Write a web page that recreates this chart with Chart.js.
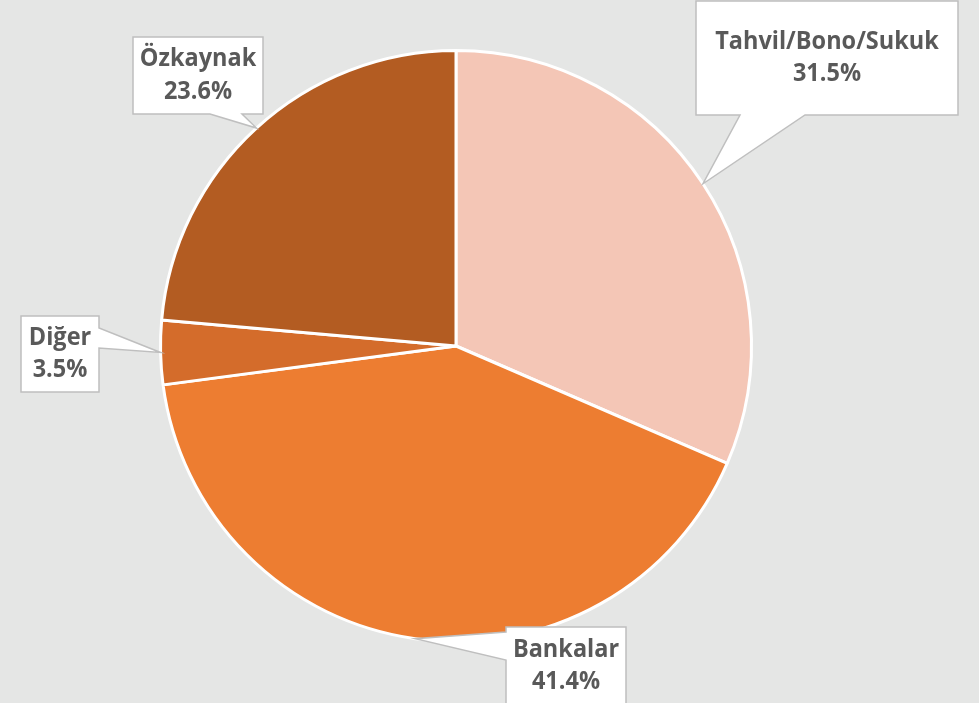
<!DOCTYPE html>
<html>
<head>
<meta charset="utf-8">
<script src="https://cdn.jsdelivr.net/npm/chart.js@4.4.1/dist/chart.umd.min.js"></script>
<style>
  html, body { margin: 0; padding: 0; background: #E5E6E5; }
  #wrap { width: 979px; height: 703px; }
</style>
</head>
<body>
<div id="wrap"><canvas id="pie"></canvas></div>
<script>
// Data
const labels = ['Tahvil/Bono/Sukuk', 'Bankalar', 'Diğer', 'Özkaynak'];
const shares = [31.5, 41.4, 3.5, 23.6];
const colors = ['#F4C6B6', '#ED7D31', '#D46C2B', '#B35C22'];

// Callout boxes: rect + where the pointer leaves the box
const callouts = [
    { x: 696, y: 1, w: 262, h: 114, base: ['bottom', 740, 805] },
    { x: 506, y: 627, w: 120, h: 78, base: ['left', 632, 660] },
    { x: 21, y: 316, w: 78, h: 76, base: ['right', 328, 348] },
    { x: 133, y: 37, w: 130, h: 77, base: ['bottom', 210, 242] }
];

const labelFont = 'bold 23.5px "Open Sans"';

const calloutPlugin = {
    id: 'callouts',
    afterDraw(chart) {
        const ctx = chart.ctx;
        const arcs = chart.getDatasetMeta(0).data;
        ctx.save();
        arcs.forEach((arc, i) => {
            const c = callouts[i];
            const p = arc.getProps(['x', 'y', 'startAngle', 'endAngle', 'outerRadius'], true);
            const mid = (p.startAngle + p.endAngle) / 2;
            const tx = p.x + Math.cos(mid) * p.outerRadius;
            const ty = p.y + Math.sin(mid) * p.outerRadius;
            const [side, a, b] = c.base;

            // box with pointer
            ctx.beginPath();
            ctx.moveTo(c.x, c.y);
            ctx.lineTo(c.x + c.w, c.y);
            if (side === 'right') {
                ctx.lineTo(c.x + c.w, a);
                ctx.lineTo(tx, ty);
                ctx.lineTo(c.x + c.w, b);
            }
            ctx.lineTo(c.x + c.w, c.y + c.h);
            if (side === 'bottom') {
                ctx.lineTo(b, c.y + c.h);
                ctx.lineTo(tx, ty);
                ctx.lineTo(a, c.y + c.h);
            }
            ctx.lineTo(c.x, c.y + c.h);
            if (side === 'left') {
                ctx.lineTo(c.x, b);
                ctx.lineTo(tx, ty);
                ctx.lineTo(c.x, a);
            }
            ctx.closePath();
            ctx.fillStyle = '#FFFFFF';
            ctx.fill();
            ctx.strokeStyle = '#BFBFBF';
            ctx.lineWidth = 1.5;
            ctx.stroke();

            // text, stretched a little vertically to look like Calibri
            const cx = c.x + c.w / 2;
            const cy = c.y + c.h / 2;
            ctx.save();
            ctx.translate(cx, cy);
            ctx.scale(1, 1.1);
            ctx.fillStyle = '#595959';
            ctx.font = labelFont;
            ctx.textAlign = 'center';
            ctx.textBaseline = 'middle';
            ctx.fillText(labels[i], 0, -15);
            ctx.fillText(shares[i].toFixed(1) + '%', 0, 14.5);
            ctx.restore();
        });
        ctx.restore();
    }
};

function createPie() {
    const ctx = document.getElementById('pie').getContext('2d');
    new Chart(ctx, {
        type: 'pie',
        data: {
            labels: labels,
            datasets: [{
                data: shares,
                backgroundColor: colors,
                borderColor: '#FFFFFF',
                borderWidth: 3
            }]
        },
        options: {
            responsive: true,
            maintainAspectRatio: false,
            animation: false,
            layout: {
                padding: { top: 49, bottom: 60, left: 158, right: 225 }
            },
            plugins: {
                legend: { display: false },
                tooltip: { enabled: false }
            }
        },
        plugins: [calloutPlugin]
    });
}

// make sure the label font is ready before drawing on the canvas
document.addEventListener('DOMContentLoaded', () => {
    document.fonts.load(labelFont).then(createPie, createPie);
});
</script>
</body>
</html>
